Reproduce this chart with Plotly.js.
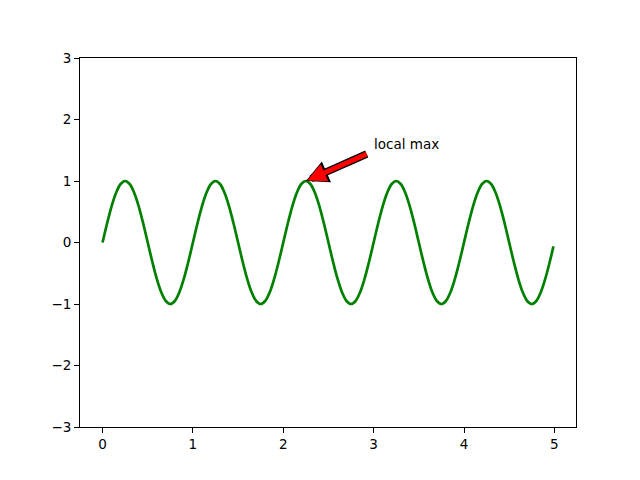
<!DOCTYPE html>
<html><head><meta charset="utf-8">
<script src="https://cdn.plot.ly/plotly-3.0.1.min.js"></script>
<style>html,body{margin:0;padding:0;background:#fff}#chart{width:640px;height:480px}</style>
</head><body><div id="chart"></div>
<script>
const tValues = [
0.00,0.05,0.10,0.15,0.20,0.25,0.30,0.35,0.40,0.45,0.50,0.55,0.60,0.65,0.70,0.75,0.80,0.85,0.90,0.95,
1.00,1.05,1.10,1.15,1.20,1.25,1.30,1.35,1.40,1.45,1.50,1.55,1.60,1.65,1.70,1.75,1.80,1.85,1.90,1.95,
2.00,2.05,2.10,2.15,2.20,2.25,2.30,2.35,2.40,2.45,2.50,2.55,2.60,2.65,2.70,2.75,2.80,2.85,2.90,2.95,
3.00,3.05,3.10,3.15,3.20,3.25,3.30,3.35,3.40,3.45,3.50,3.55,3.60,3.65,3.70,3.75,3.80,3.85,3.90,3.95,
4.00,4.05,4.10,4.15,4.20,4.25,4.30,4.35,4.40,4.45,4.50,4.55,4.60,4.65,4.70,4.75,4.80,4.85,4.90,4.95,4.99];
const sValues = [
0,0.309,0.588,0.809,0.951,1,0.951,0.809,0.588,0.309,0,-0.309,-0.588,-0.809,-0.951,-1,-0.951,-0.809,-0.588,-0.309,
0,0.309,0.588,0.809,0.951,1,0.951,0.809,0.588,0.309,0,-0.309,-0.588,-0.809,-0.951,-1,-0.951,-0.809,-0.588,-0.309,
0,0.309,0.588,0.809,0.951,1,0.951,0.809,0.588,0.309,0,-0.309,-0.588,-0.809,-0.951,-1,-0.951,-0.809,-0.588,-0.309,
0,0.309,0.588,0.809,0.951,1,0.951,0.809,0.588,0.309,0,-0.309,-0.588,-0.809,-0.951,-1,-0.951,-0.809,-0.588,-0.309,
0,0.309,0.588,0.809,0.951,1,0.951,0.809,0.588,0.309,0,-0.309,-0.588,-0.809,-0.951,-1,-0.951,-0.809,-0.588,-0.309,-0.063];
const xTicks = [0,1,2,3,4,5];
const yTicks = [-3,-2,-1,0,1,2,3];
const annText = "local max";
const annPoint = [2.25, 1];
const annTextPos = [3, 1.5];

const axisCommon = {
  showgrid:false, zeroline:false, showline:true, linecolor:'#000', linewidth:1, mirror:true,
  ticks:'outside', ticklen:5, tickwidth:1, tickcolor:'#000',
  tickfont:{family:'DejaVu Sans', size:13.5, color:'#000'}
};
const tail = [2.94, 1.45];
const arrowBase = {x:annPoint[0], y:annPoint[1], ax:tail[0], ay:tail[1], xref:'x', yref:'y', axref:'x', ayref:'y', text:'', showarrow:true, arrowhead:2};
const layout = {
  width:640, height:480, margin:{l:80, r:64, t:58, b:53},
  paper_bgcolor:'#fff', plot_bgcolor:'#fff', showlegend:false,
  xaxis:Object.assign({}, axisCommon, {range:[-0.2495, 5.2395], tickvals:xTicks, ticktext:xTicks.map(String)}),
  yaxis:Object.assign({}, axisCommon, {range:[-3, 3], tickvals:yTicks}),
  annotations:[
    Object.assign({}, arrowBase, {arrowcolor:'#000', arrowwidth:7.5, arrowsize:0.6, standoff:0}),
    Object.assign({}, arrowBase, {arrowcolor:'#ff0000', arrowwidth:5, arrowsize:0.75, standoff:1.5}),
    {x:annTextPos[0], y:annTextPos[1], xref:'x', yref:'y', text:annText, showarrow:false,
     xanchor:'left', yanchor:'bottom', yshift:-4, xshift:-2, font:{family:'DejaVu Sans', size:13.5, color:'#000'}}
  ]
};
Plotly.newPlot('chart', [{
  x:tValues, y:sValues, type:'scatter', mode:'lines',
  line:{color:'#008000', width:2.7, shape:'spline'}
}], layout, {staticPlot:true, displayModeBar:false});
</script></body></html>
